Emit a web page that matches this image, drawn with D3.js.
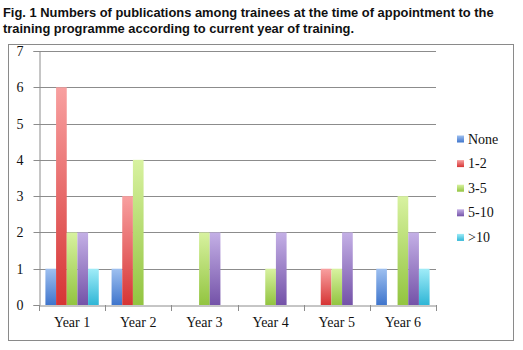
<!DOCTYPE html>
<html>
<head>
<meta charset="utf-8">
<script src="https://cdn.jsdelivr.net/npm/d3@7"></script>
<style>
  html, body { margin: 0; padding: 0; background: #fff; }
  svg { display: block; }
</style>
</head>
<body>
<script>
// Publications held by trainees at appointment, grouped by current training year
const categories = ["Year 1", "Year 2", "Year 3", "Year 4", "Year 5", "Year 6"];
const seriesNames = ["None", "1-2", "3-5", "5-10", ">10"];
const valuesNone = [1, 1, 0, 0, 0, 1];
const values1to2 = [6, 3, 0, 0, 1, 0];
const values3to5 = [2, 4, 2, 1, 1, 3];
const values5to10 = [2, 0, 2, 2, 2, 2];
const valuesOver10 = [1, 0, 0, 0, 0, 1];
const yTicks = [0, 1, 2, 3, 4, 5, 6, 7];
const titleLines = [
  "Fig. 1 Numbers of publications among trainees at the time of appointment to the",
  "training programme according to current year of training."
];

const seriesValues = [valuesNone, values1to2, values3to5, values5to10, valuesOver10];
// light (top) and dark (bottom) shades for each series' bar gradient
const shades = [
  ["#9ec0f0", "#3f75cc"],
  ["#f8a0a0", "#d63434"],
  ["#d8f2a0", "#92c440"],
  ["#c4b0e6", "#7452a8"],
  ["#a0ecf8", "#2fb6d6"]
];

const W = 523, H = 350;
const svg = d3.select("body").append("svg").attr("width", W).attr("height", H);

const defs = svg.append("defs");
shades.forEach((s, i) => {
  const g = defs.append("linearGradient").attr("id", "grad" + i)
    .attr("x1", 0).attr("y1", 0).attr("x2", 0).attr("y2", 1);
  g.append("stop").attr("offset", "0%").attr("stop-color", s[0]);
  g.append("stop").attr("offset", "100%").attr("stop-color", s[1]);
});

// Title
svg.append("g").selectAll("text").data(titleLines).join("text")
  .attr("x", 3).attr("y", (d, i) => 17 + i * 16)
  .attr("font-family", "Liberation Sans, Arial, sans-serif")
  .attr("font-weight", "bold").attr("font-size", 12.9)
  .attr("fill", "#111")
  .text(d => d);

// Chart frame
svg.append("rect").attr("x", 8.5).attr("y", 44.5).attr("width", 505).attr("height", 296)
  .attr("fill", "#fff").attr("stroke", "#8a8a8a").attr("stroke-width", 1);

const plot = { left: 39, right: 436, top: 51, bottom: 305 };

const x0 = d3.scaleBand().domain(categories).range([plot.left, plot.right]).paddingInner(0).paddingOuter(0);
const x1 = d3.scaleBand().domain(seriesNames).range([0, x0.bandwidth()]).paddingInner(0).paddingOuter(0.6);
const y = d3.scaleLinear().domain([0, 7]).range([plot.bottom, plot.top]);

// Gridlines
svg.append("g").selectAll("line").data(yTicks.filter(t => t > 0)).join("line")
  .attr("x1", plot.left).attr("x2", plot.right)
  .attr("y1", d => Math.round(y(d)) + 0.5).attr("y2", d => Math.round(y(d)) + 0.5)
  .attr("stroke", "#8c8c8c").attr("stroke-width", 1);

// Y axis
const yAxis = svg.append("g").attr("transform", `translate(${plot.left + 0.5},0)`)
  .call(d3.axisLeft(y).tickValues(yTicks).tickSize(6).tickPadding(10).tickFormat(d3.format("d")));
yAxis.select(".domain").attr("stroke", "#8c8c8c");
yAxis.selectAll(".tick line").attr("stroke", "#8c8c8c");
yAxis.selectAll(".tick").attr("transform", d => `translate(0,${Math.round(y(d)) + 0.5})`);
yAxis.selectAll("text").attr("font-family", "Liberation Serif, Cambria, serif")
  .attr("font-size", 14).attr("fill", "#111");

// Bars
const groups = svg.append("g").selectAll("g").data(categories).join("g")
  .attr("transform", d => `translate(${x0(d)},0)`);
groups.selectAll("rect")
  .data((c, ci) => seriesNames.map((s, si) => ({ s, si, v: seriesValues[si][ci] })))
  .join("rect")
  .attr("x", d => x1(d.s)).attr("width", x1.bandwidth())
  .attr("y", d => y(d.v)).attr("height", d => y(0) - y(d.v))
  .attr("fill", d => `url(#grad${d.si})`);

// X axis
const xAxis = svg.append("g").attr("transform", `translate(0,${plot.bottom + 0.5})`)
  .call(d3.axisBottom(x0).tickSize(0).tickPadding(12));
xAxis.select(".domain").attr("stroke", "#8c8c8c");
xAxis.selectAll("text").attr("font-family", "Liberation Serif, Cambria, serif")
  .attr("font-size", 14).attr("fill", "#111");
// category boundary ticks
svg.append("g").selectAll("line").data(d3.range(categories.length + 1)).join("line")
  .attr("x1", i => Math.round(plot.left + i * x0.bandwidth()) + 0.5)
  .attr("x2", i => Math.round(plot.left + i * x0.bandwidth()) + 0.5)
  .attr("y1", plot.bottom).attr("y2", plot.bottom + 6)
  .attr("stroke", "#8c8c8c");

// Legend
const legend = svg.append("g").selectAll("g").data(seriesNames).join("g")
  .attr("transform", (d, i) => `translate(457,${139 + i * 24.6})`);
legend.append("rect").attr("x", 0).attr("y", -3.5).attr("width", 7).attr("height", 7)
  .attr("fill", (d, i) => `url(#grad${i})`);
legend.append("text").attr("x", 11).attr("y", 4.5)
  .attr("font-family", "Liberation Serif, Cambria, serif").attr("font-size", 14)
  .attr("fill", "#111").text(d => d);
</script>
</body>
</html>
